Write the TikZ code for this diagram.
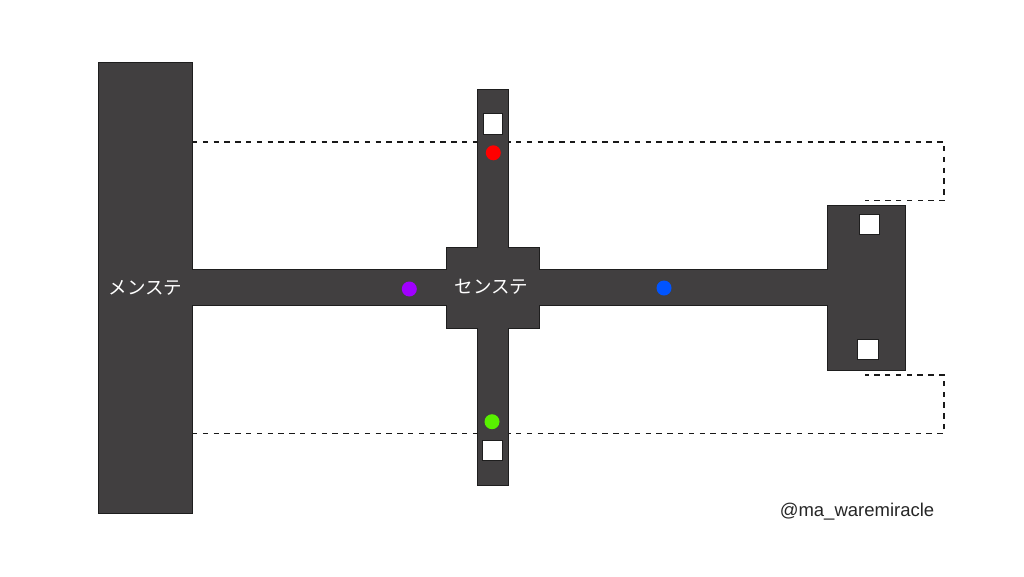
\documentclass[tikz,border=0pt]{standalone}
\usepackage{fontspec}
\setmainfont{Liberation Sans}
\newfontfamily\jpfont{Noto Sans CJK JP}
\definecolor{blk}{RGB}{65,63,64}
\definecolor{edge}{RGB}{30,30,30}
\definecolor{dred}{RGB}{255,0,0}
\definecolor{dpurple}{RGB}{161,0,255}
\definecolor{dblue}{RGB}{0,84,255}
\definecolor{dgreen}{RGB}{88,240,0}
\tikzset{
  area/.style={rectangle, inner sep=0pt, outer sep=0pt, fill=blk, draw=edge, line width=2pt},
  areafill/.style={rectangle, inner sep=0pt, outer sep=0pt, fill=blk},
  gate/.style={rectangle, inner sep=0pt, fill=white, draw=edge, line width=0.8pt},
  dot/.style={circle, inner sep=0pt, minimum size=15pt},
  route/.style={dash pattern=on 5.4pt off 5.4pt, line width=1.6pt, black!90},
  lbl/.style={text=white, font=\jpfont\fontsize{18.5}{22}\selectfont}
}
\begin{document}
\begin{tikzpicture}[x=1pt,y=-1pt]
\useasboundingbox (0,0) rectangle (1024,576);
% coordinates for dashed routes
\coordinate (t0) at (192,142);
\coordinate (t1) at (944,142);
\coordinate (t2) at (944,200.5);
\coordinate (t3) at (865,200.5);
\coordinate (b0) at (192,433.3);
\coordinate (b1) at (944,433.3);
\coordinate (b2) at (944,375);
\coordinate (b3) at (865,375);
\draw[route] (t0) -- (t1) -- (t2) -- (t3);
\draw[route] (b0) -- (b1) -- (b2) -- (b3);
% outlines
\foreach \n/\x/\y/\w/\h in {a/145.25/287.5/93.5/450, b/319.5/287.5/256/35, c/493/287.75/92/80.5, d/493/287.5/30/395, e/683.5/287.5/290/35, f/866.5/287.75/77/163.5}
  \node[area, minimum width=\w pt, minimum height=\h pt] (o\n) at (\x,\y) {};
% fills
\node[areafill, minimum width=93.5pt, minimum height=450pt] (mainst) at (145.25,287.5) {};
\node[areafill, minimum width=256pt, minimum height=35pt] (lbar) at (319.5,287.5) {};
\node[areafill, minimum width=92pt, minimum height=80.5pt] (center) at (493,287.75) {};
\node[areafill, minimum width=30pt, minimum height=395pt] (vbar) at (493,287.5) {};
\node[areafill, minimum width=290pt, minimum height=35pt] (rbar) at (683.5,287.5) {};
\node[areafill, minimum width=77pt, minimum height=163.5pt] (rblock) at (866.5,287.75) {};
% gates
\node[gate, minimum width=19.5pt, minimum height=21pt] (g1) at (493,123.5) {};
\node[gate, minimum width=20pt, minimum height=20pt] (g2) at (492.7,450.7) {};
\node[gate, minimum width=19.5pt, minimum height=20pt] (g3) at (869.6,224) {};
\node[gate, minimum width=20.5pt, minimum height=20.5pt] (g4) at (867.7,349.6) {};
% dots
\node[dot, fill=dred] (pr) at (493.3,152.8) {};
\node[dot, fill=dpurple] (pp) at (409.3,289) {};
\node[dot, fill=dblue] (pb) at (664,288) {};
\node[dot, fill=dgreen] (pg) at (492,421.7) {};
% labels
\node[lbl] (l1) at (145.5,288) {メンステ};
\node[lbl] (l2) at (491.5,287) {センステ};
\node[font=\fontsize{18.5}{22}\selectfont, text=black!85] (credit) at (857,512) {@ma\_waremiracle};
\end{tikzpicture}
\end{document}
